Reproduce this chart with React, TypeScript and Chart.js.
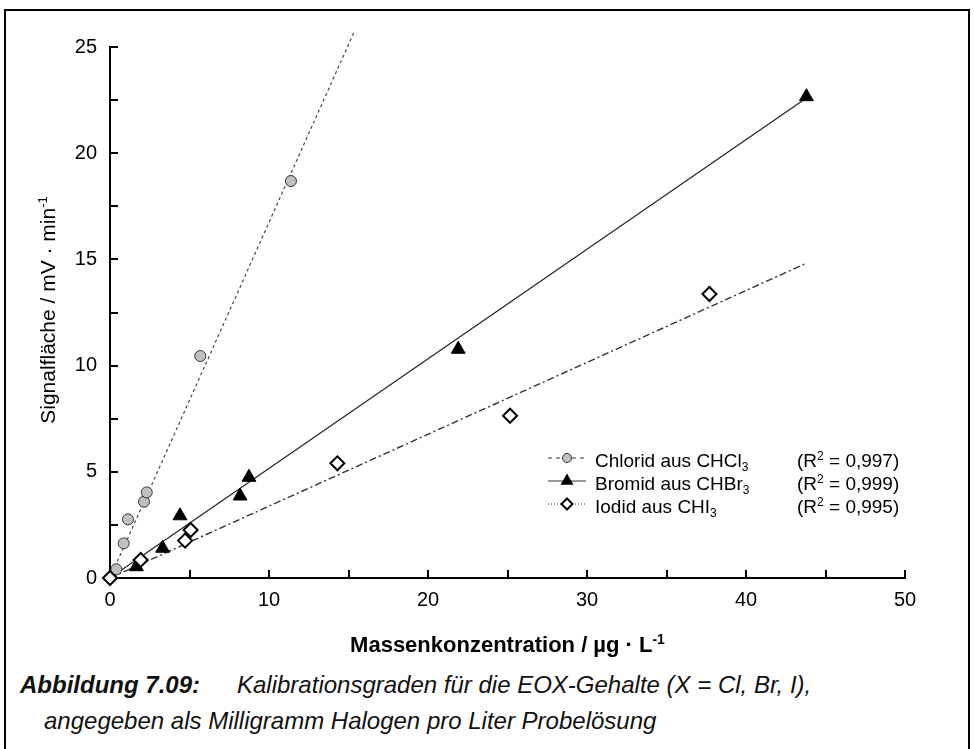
import React, { useEffect, useRef } from 'react';
import { Chart, registerables } from 'chart.js';

Chart.register(...registerables);

// ---- data ----
const chloridX = [0.4, 0.86, 1.13, 2.14, 2.31, 5.68, 11.38];
const chloridY = [0.41, 1.63, 2.76, 3.59, 4.03, 10.45, 18.69];
const bromidX = [1.66, 3.31, 4.4, 8.18, 8.74, 21.9, 43.8];
const bromidY = [0.53, 1.4, 2.93, 3.86, 4.74, 10.77, 22.66];
const iodidX = [0, 1.93, 4.72, 5.07, 14.3, 25.16, 37.7];
const iodidY = [0, 0.85, 1.76, 2.26, 5.4, 7.64, 13.37];

// regression lines (end points)
const chloridFitX = [0, 15.35];
const chloridFitY = [0, 25.7];
const bromidFitX = [0, 43.8];
const bromidFitY = [0, 22.6];
const iodidFitX = [0, 43.8];
const iodidFitY = [0, 14.82];

const xTicks = [0, 10, 20, 30, 40, 50];
const yTicks = [0, 5, 10, 15, 20, 25];
const xMinorStep = 5;
const yMinorStep = 2.5;

const legendNames = ['Chlorid aus CHCl', 'Bromid aus CHBr', 'Iodid aus CHI'];
const legendSub = ['3', '3', '3'];
const legendR2 = ['0,997', '0,999', '0,995'];

const xTitle = 'Massenkonzentration / µg · L';
const yTitle = 'Signalfläche / mV · min';
const titleSup = '-1';

const FONT = '"Liberation Sans", Arial, Helvetica, sans-serif';

type Seg = { t: string; k?: 'sup' | 'sub' };

function drawRich(
  ctx: CanvasRenderingContext2D,
  segs: Seg[],
  x: number,
  y: number,
  size: number,
  weight: string,
  align: 'left' | 'center'
) {
  const small = Math.round(size * 0.62);
  let w = 0;
  for (const s of segs) {
    ctx.font = `${weight} ${s.k ? small : size}px ${FONT}`;
    w += ctx.measureText(s.t).width;
  }
  let cx = align === 'center' ? x - w / 2 : x;
  ctx.textBaseline = 'alphabetic';
  ctx.textAlign = 'left';
  for (const s of segs) {
    const sz = s.k ? small : size;
    ctx.font = `${weight} ${sz}px ${FONT}`;
    const dy = s.k === 'sup' ? -size * 0.38 : s.k === 'sub' ? size * 0.22 : 0;
    ctx.fillText(s.t, cx, y + dy);
    cx += ctx.measureText(s.t).width;
  }
}

function circleMark(ctx: CanvasRenderingContext2D, x: number, y: number, r: number) {
  ctx.beginPath();
  ctx.arc(x, y, r, 0, Math.PI * 2);
  ctx.fillStyle = '#c0c0c0';
  ctx.fill();
  ctx.lineWidth = 1;
  ctx.strokeStyle = '#333';
  ctx.setLineDash([]);
  ctx.stroke();
}
function triMark(ctx: CanvasRenderingContext2D, x: number, y: number, r: number) {
  ctx.beginPath();
  ctx.moveTo(x, y - r);
  ctx.lineTo(x + r * 0.866, y + r * 0.5);
  ctx.lineTo(x - r * 0.866, y + r * 0.5);
  ctx.closePath();
  ctx.fillStyle = '#000';
  ctx.fill();
}
function diaMark(ctx: CanvasRenderingContext2D, x: number, y: number, r: number) {
  ctx.beginPath();
  ctx.moveTo(x, y - r);
  ctx.lineTo(x + r, y);
  ctx.lineTo(x, y + r);
  ctx.lineTo(x - r, y);
  ctx.closePath();
  ctx.fillStyle = '#fff';
  ctx.fill();
  ctx.lineWidth = 2;
  ctx.strokeStyle = '#000';
  ctx.setLineDash([]);
  ctx.stroke();
}

const axesPlugin = {
  id: 'axesUnder',
  beforeDatasetsDraw(chart: any) {
    const ctx: CanvasRenderingContext2D = chart.ctx;
    const xs = chart.scales.x;
    const ys = chart.scales.y;
    const a = chart.chartArea;
    ctx.save();
    ctx.strokeStyle = '#000';
    ctx.lineWidth = 2;
    ctx.setLineDash([]);
    ctx.beginPath();
    ctx.moveTo(a.left, a.top - 1);
    ctx.lineTo(a.left, a.bottom + 1);
    ctx.moveTo(a.left - 1, a.bottom);
    ctx.lineTo(a.right + 1, a.bottom);
    for (let v = ys.min; v <= ys.max + 1e-9; v += yMinorStep) {
      const py = Math.round(ys.getPixelForValue(v));
      ctx.moveTo(a.left, py);
      ctx.lineTo(a.left + 8, py);
    }
    for (let v = xs.min; v <= xs.max + 1e-9; v += xMinorStep) {
      const px = Math.round(xs.getPixelForValue(v));
      ctx.moveTo(px, a.bottom);
      ctx.lineTo(px, a.bottom - 8);
    }
    ctx.stroke();
    ctx.restore();
  },
};

const decorPlugin = {
  id: 'decor',
  afterDraw(chart: any) {
    const ctx: CanvasRenderingContext2D = chart.ctx;
    const a = chart.chartArea;
    ctx.save();
    ctx.fillStyle = '#000';
    // x title
    drawRich(ctx, [{ t: xTitle }, { t: titleSup, k: 'sup' }], (a.left + a.right) / 2, 652, 22, 'bold', 'center');
    // y title
    ctx.save();
    ctx.translate(55, 310);
    ctx.rotate(-Math.PI / 2);
    ctx.fillStyle = '#000';
    drawRich(ctx, [{ t: yTitle }, { t: titleSup, k: 'sup' }], 0, 0, 21, 'normal', 'center');
    ctx.restore();

    // legend
    const baseY = [467, 490, 513];
    const symX0 = 548;
    const symX1 = 586;
    const symC = 567;
    for (let i = 0; i < 3; i++) {
      const by = baseY[i];
      const my = by - 9;
      ctx.beginPath();
      ctx.lineWidth = 1;
      ctx.strokeStyle = '#333';
      if (i === 0) ctx.setLineDash([4, 4]);
      else if (i === 1) ctx.setLineDash([]);
      else ctx.setLineDash([1, 2]);
      ctx.moveTo(symX0, my);
      ctx.lineTo(symX1, my);
      ctx.stroke();
      ctx.setLineDash([]);
      if (i === 0) circleMark(ctx, symC, my, 4.5);
      else if (i === 1) triMark(ctx, symC, my, 7.5);
      else diaMark(ctx, symC, my, 5.5);
      ctx.fillStyle = '#000';
      drawRich(ctx, [{ t: legendNames[i] }, { t: legendSub[i], k: 'sub' }], 595, by, 19, 'normal', 'left');
      drawRich(ctx, [{ t: '(R' }, { t: '2', k: 'sup' }, { t: ' = ' + legendR2[i] + ')' }], 797, by, 19, 'normal', 'left');
    }
    ctx.restore();
  },
};

const pts = (xs: number[], ys: number[]) => xs.map((x, i) => ({ x, y: ys[i] }));

export default function App() {
  const ref = useRef<HTMLCanvasElement | null>(null);

  useEffect(() => {
    if (!ref.current) return;
    const chart = new Chart(ref.current, {
      type: 'scatter',
      data: {
        datasets: [
          {
            label: 'Iodid',
            data: pts(iodidX, iodidY),
            pointStyle: 'rectRot',
            pointRadius: 7,
            pointBackgroundColor: '#fff',
            pointBorderColor: '#000',
            pointBorderWidth: 2,
            clip: false,
            order: 0,
          },
          {
            label: 'Bromid',
            data: pts(bromidX, bromidY),
            pointStyle: 'triangle',
            pointRadius: 8,
            pointBackgroundColor: '#000',
            pointBorderColor: '#000',
            pointBorderWidth: 1,
            clip: false,
            order: 1,
          },
          {
            label: 'Chlorid',
            data: pts(chloridX, chloridY),
            pointStyle: 'circle',
            pointRadius: 5.5,
            pointBackgroundColor: '#c0c0c0',
            pointBorderColor: '#333',
            pointBorderWidth: 1,
            clip: false,
            order: 2,
          },
          {
            label: 'Chlorid fit',
            data: pts(chloridFitX, chloridFitY),
            showLine: true,
            pointRadius: 0,
            borderColor: '#444',
            borderWidth: 1.2,
            borderDash: [3, 3],
            clip: false,
            order: 5,
          },
          {
            label: 'Bromid fit',
            data: pts(bromidFitX, bromidFitY),
            showLine: true,
            pointRadius: 0,
            borderColor: '#222',
            borderWidth: 1.2,
            clip: false,
            order: 5,
          },
          {
            label: 'Iodid fit',
            data: pts(iodidFitX, iodidFitY),
            showLine: true,
            pointRadius: 0,
            borderColor: '#333',
            borderWidth: 1.4,
            borderDash: [7, 3, 2, 3],
            clip: false,
            order: 5,
          },
        ] as any,
      },
      options: {
        animation: false,
        responsive: false,
        events: [],
        layout: { padding: { left: 0, right: 69, top: 47, bottom: 0 } },
        plugins: { legend: { display: false }, tooltip: { enabled: false } },
        scales: {
          x: {
            type: 'linear',
            min: 0,
            max: 50,
            grid: { display: false, drawTicks: false },
            border: { display: false },
            afterBuildTicks: (s: any) => {
              s.ticks = xTicks.map((v) => ({ value: v }));
            },
            afterFit: (s: any) => {
              s.height = 82;
            },
            ticks: {
              color: '#000',
              padding: 10,
              maxRotation: 0,
              font: { family: FONT, size: 20 },
            },
          },
          y: {
            type: 'linear',
            min: 0,
            max: 25,
            grid: { display: false, drawTicks: false },
            border: { display: false },
            afterBuildTicks: (s: any) => {
              s.ticks = yTicks.map((v) => ({ value: v }));
            },
            afterFit: (s: any) => {
              s.width = 110;
            },
            ticks: {
              color: '#000',
              padding: 13,
              font: { family: FONT, size: 20 },
            },
          },
        },
      } as any,
      plugins: [axesPlugin, decorPlugin],
    });
    return () => chart.destroy();
  }, []);

  return (
    <div
      style={{
        position: 'fixed',
        left: 0,
        top: 0,
        width: 974,
        height: 749,
        overflow: 'hidden',
        background: '#fff',
      }}
    >
      <div
        style={{
          position: 'absolute',
          left: 4,
          top: 9,
          width: 966,
          height: 800,
          boxSizing: 'border-box',
          borderTop: '2px solid #000',
          borderLeft: '2px solid #000',
          borderRight: '2px solid #000',
        }}
      />
      <canvas
        ref={ref}
        width={974}
        height={660}
        style={{ position: 'absolute', left: 0, top: 0, width: 974, height: 660 }}
      />
      <div
        style={{
          position: 'absolute',
          left: 0,
          top: 667,
          width: 974,
          fontFamily: FONT,
          fontSize: 24,
          lineHeight: '36px',
          fontStyle: 'italic',
          color: '#111',
          whiteSpace: 'nowrap',
        }}
      >
        <div style={{ position: 'relative', height: 36 }}>
          <span style={{ position: 'absolute', left: 20, fontWeight: 'bold' }}>Abbildung 7.09:</span>
          <span style={{ position: 'absolute', left: 237 }}>
            Kalibrationsgraden für die EOX-Gehalte (X = Cl, Br, I),
          </span>
        </div>
        <div style={{ position: 'relative', height: 36 }}>
          <span style={{ position: 'absolute', left: 44 }}>
            angegeben als Milligramm Halogen pro Liter Probelösung
          </span>
        </div>
      </div>
    </div>
  );
}
